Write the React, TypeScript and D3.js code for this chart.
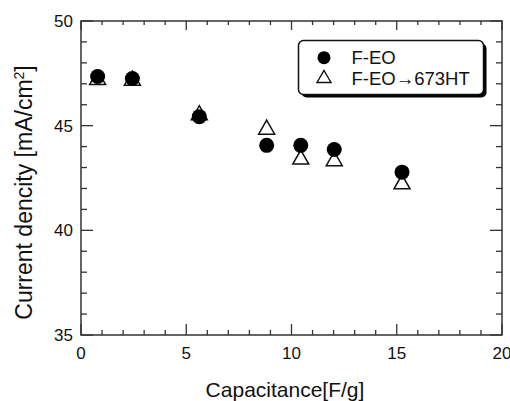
import * as d3 from 'd3';

const capacitance = [0.79, 2.44, 5.62, 8.82, 10.44, 12.03, 15.25];
const feo = [47.35, 47.25, 45.43, 44.06, 44.06, 43.86, 42.78];
const feoHt = [47.3, 47.27, 45.62, 44.93, 43.5, 43.42, 42.32];
const seriesNames = ['F-EO', 'F-EO\u2192673HT'];
const xTicks = [0, 5, 10, 15, 20];
const yTicks = [35, 40, 45, 50];

const W = 510;
const H = 401;
const margin = { top: 21, right: 8, bottom: 66, left: 81 };
const font = '"Liberation Sans", Arial, Helvetica, sans-serif';
const axisColor = '#333';

function tri(cx: number, cy: number, w: number, h: number) {
  const line = d3.line();
  return line([
    [cx, cy - h / 2],
    [cx + w / 2, cy + h / 2],
    [cx - w / 2, cy + h / 2],
  ]) + 'Z';
}

export default function App() {
  const x = d3.scaleLinear().domain([0, 20]).range([margin.left, W - margin.right]);
  const y = d3.scaleLinear().domain([35, 50]).range([H - margin.bottom, margin.top]);
  const [x0, x1] = x.range();
  const [y0, y1] = y.range();

  const xMinor = d3.range(0, 21, 1);
  const yMinor = d3.range(35, 51, 1);

  const pts = capacitance.map((c, i) => ({ c, a: feo[i], b: feoHt[i] }));

  return (
    <svg width={W} height={H} style={{ position: 'absolute', left: 0, top: 0, background: '#fff' }}>
      {/* frame */}
      <rect x={x0} y={y1} width={x1 - x0} height={y0 - y1} fill="none" stroke={axisColor} strokeWidth={1.5} />

      {/* x ticks bottom + top */}
      {xMinor.map((t) => {
        const major = t % 5 === 0;
        const len = major ? 11 : 5;
        return (
          <g key={'xt' + t} stroke={axisColor} strokeWidth={1.3}>
            <line x1={x(t)} x2={x(t)} y1={y0} y2={y0 - len} />
            <line x1={x(t)} x2={x(t)} y1={y1} y2={y1 + (major ? 9 : 4)} />
          </g>
        );
      })}
      {yMinor.map((t) => {
        const major = t % 5 === 0;
        const len = major ? 12 : 6;
        return (
          <g key={'yt' + t} stroke={axisColor} strokeWidth={1.3}>
            <line x1={x0} x2={x0 + len} y1={y(t)} y2={y(t)} />
            <line x1={x1} x2={x1 - len} y1={y(t)} y2={y(t)} />
          </g>
        );
      })}

      {/* tick labels */}
      {xTicks.map((t) => (
        <text key={'xl' + t} x={x(t)} y={y0 + 24} textAnchor="middle" fontFamily={font} fontSize={17} fill="#111">
          {t}
        </text>
      ))}
      {yTicks.map((t) => (
        <text key={'yl' + t} x={x0 - 8} y={y(t) + 6} textAnchor="end" fontFamily={font} fontSize={17} fill="#111">
          {t}
        </text>
      ))}

      {/* axis titles */}
      <text x={285} y={396.5} textAnchor="middle" fontFamily={font} fontSize={21} fill="#111">
        Capacitance[F/g]
      </text>
      <text
        transform={`translate(31.5,192.5) rotate(-90)`}
        textAnchor="middle"
        fontFamily={font}
        fontSize={23}
        fill="#111"
      >
        Current dencity [mA/cm<tspan dy={-8} fontSize={14}>2</tspan>
        <tspan dy={8}>]</tspan>
      </text>

      {/* triangles below, circles on top */}
      {pts.map((p, i) => (
        <path key={'tr' + i} d={tri(x(p.c), y(p.b), 16, 14)} fill="#fff" stroke="#111" strokeWidth={1.5} strokeLinejoin="miter" />
      ))}
      {pts.map((p, i) => (
        <circle key={'ci' + i} cx={x(p.c)} cy={y(p.a)} r={7.5} fill="#000" />
      ))}

      {/* legend */}
      <g>
        <rect x={301.5} y={43.5} width={185} height={54} rx={5} fill="#000" />
        <rect x={298.5} y={40.5} width={185} height={54} rx={5} fill="#fff" stroke="#111" strokeWidth={1.5} />
        <circle cx={324} cy={57.7} r={6.5} fill="#000" />
        <path d={tri(324, 76.5, 14, 12)} fill="#fff" stroke="#111" strokeWidth={1.4} />
        <text x={351.5} y={63.5} fontFamily={font} fontSize={18.5} fill="#111">
          {seriesNames[0]}
        </text>
        <text x={351.5} y={85} fontFamily={font} fontSize={18.5} fill="#111">
          {seriesNames[1]}
        </text>
      </g>
    </svg>
  );
}
